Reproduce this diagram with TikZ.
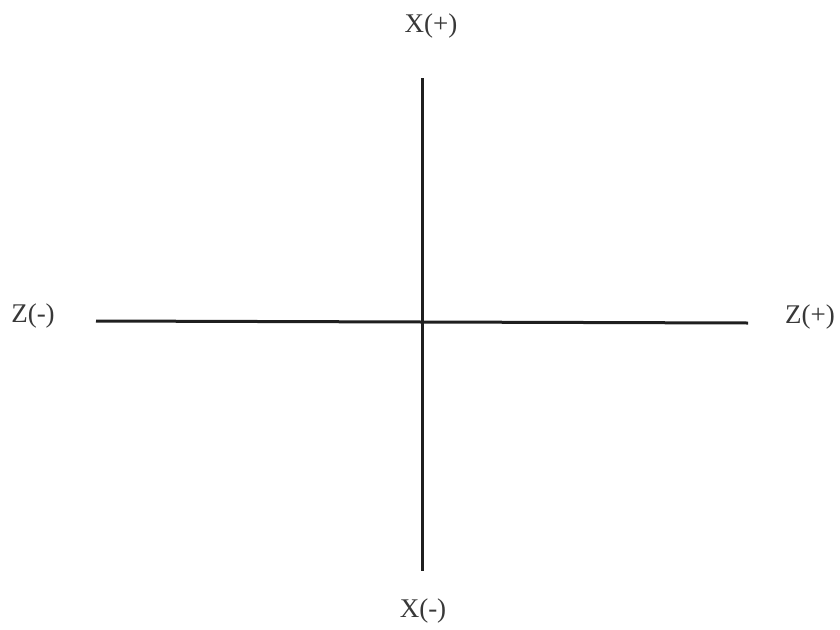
\documentclass[tikz,border=0pt]{standalone}
\usepackage{fontspec}
\setmainfont{Liberation Serif}
\begin{document}
\begin{tikzpicture}[x=1pt,y=-1pt,
  axis/.style={line width=3pt, draw=black!88},
  lbl/.style={font=\fontsize{27}{30}\selectfont, text=black!78, inner sep=0pt}]
\useasboundingbox (0,0) rectangle (840,629);
\coordinate (top) at (422,78);
\coordinate (bot) at (422,571);
\coordinate (left) at (96,321);
\coordinate (right) at (748,323);
\draw[axis] (top) -- (bot);
\draw[axis] (left) -- (right);
\node[lbl] (xp) at (431,26) {X(+)};
\node[lbl] (xm) at (423,611) {X(-)};
\node[lbl] (zm) at (33,316) {Z(-)};
\node[lbl] (zp) at (810,317) {Z(+)};
\end{tikzpicture}
\end{document}
